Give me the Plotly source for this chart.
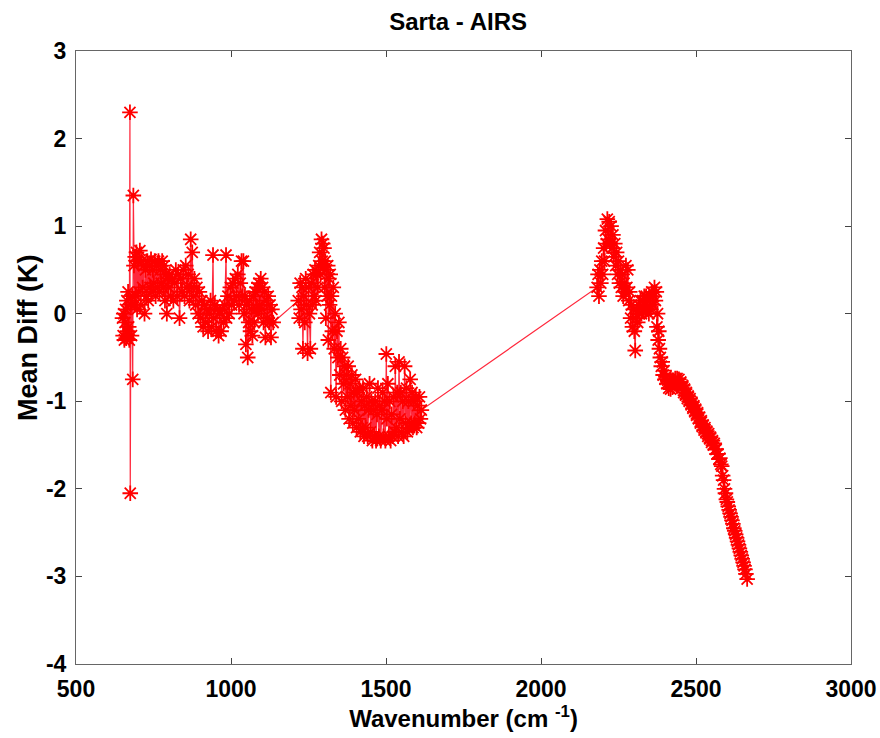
import plotly.graph_objects as go

# Band 1 (cm^-1, K)
wn1 = [650, 652, 654, 656, 658, 660, 662, 664, 666, 668, 670, 672, 674, 675, 677, 679, 681, 683, 685, 687,
       689, 691, 693, 695, 697, 700, 703, 706, 709, 712, 715, 718, 721, 724, 727, 730, 733, 736, 739, 742,
       745, 748, 751, 754, 757, 760, 763, 766, 769, 772, 775, 778, 781, 784, 787, 790, 793, 796, 799, 802,
       806, 810, 814, 818, 822, 826, 830, 834, 838, 842, 846, 850, 854, 858, 862, 866, 870, 872, 875, 878,
       882, 886, 890, 894, 898, 902, 906, 910, 914, 918, 922, 926, 930, 934, 938, 942, 944, 948, 952, 956,
       960, 964, 968, 972, 976, 980, 984, 986, 990, 994, 998, 1002, 1006, 1010, 1014, 1018, 1022, 1026, 1030, 1034,
       1036, 1040, 1042, 1045, 1048, 1051, 1054, 1057, 1060, 1063, 1066, 1069, 1072, 1075, 1078, 1081, 1084, 1087, 1090, 1093,
       1096, 1099, 1102, 1105, 1108, 1111, 1114, 1117, 1120, 1123, 1126, 1129, 1132, 1136]
val1 = [-0.05, -0.25, 0.0, -0.3, -0.1, 0.05, -0.28, 0.15, -0.2, 0.25, -0.15, -0.3, 2.3, -2.05, 0.1, -0.25, 0.2, -0.75, 1.35, 0.55,
        0.1, 0.65, 0.2, 0.7, 0.05, 0.6, 0.25, 0.72, 0.1, 0.6, 0.3, 0.55, 0.0, 0.5, 0.2, 0.6, 0.15, 0.55, 0.3, 0.62,
        0.25, 0.5, 0.35, 0.6, 0.2, 0.55, 0.3, 0.6, 0.25, 0.5, 0.35, 0.6, 0.3, 0.55, 0.15, 0.45, 0.0, 0.4, 0.3, 0.45,
        0.2, 0.4, 0.15, 0.35, 0.5, 0.2, 0.45, -0.05, 0.4, 0.25, 0.5, 0.2, 0.55, 0.3, 0.45, 0.15, 0.85, 0.3, 0.7, 0.2,
        0.4, 0.1, 0.3, 0.0, 0.25, -0.05, 0.15, -0.15, 0.1, -0.1, 0.05, -0.2, 0.0, 0.15, -0.15, 0.67, -0.05, 0.1, -0.2, 0.05,
        -0.25, 0.0, -0.2, 0.05, -0.1, 0.1, 0.67, -0.05, 0.2, 0.0, 0.3, 0.1, 0.35, 0.15, 0.4, 0.2, 0.45, 0.1, 0.35, 0.6,
        0.2, 0.6, 0.0, 0.2, -0.35, 0.1, -0.5, -0.1, 0.15, -0.2, 0.05, -0.25, 0.2, -0.1, 0.25, 0.05, 0.3, 0.0, 0.35, 0.1,
        0.4, 0.05, 0.3, -0.1, 0.25, -0.27, 0.15, -0.05, 0.2, -0.1, 0.1, -0.27, 0.05, -0.1]

# Band 2
wn2 = [1217, 1220, 1223, 1226, 1229, 1232, 1235, 1238, 1241, 1244, 1247, 1250, 1253, 1256, 1259, 1262, 1265, 1268, 1271, 1274,
       1277, 1280, 1283, 1286, 1289, 1292, 1294, 1296, 1298, 1300, 1302, 1304, 1306, 1308, 1310, 1312, 1314, 1316, 1318, 1320,
       1322, 1324, 1327, 1330, 1333, 1336, 1339, 1342, 1345, 1348, 1351, 1354, 1357, 1360, 1363, 1366, 1369, 1372, 1375, 1378,
       1381, 1384, 1387, 1390, 1393, 1396, 1399, 1402, 1405, 1408, 1411, 1414, 1417, 1420, 1423, 1426, 1429, 1432, 1435, 1438,
       1441, 1444, 1447, 1450, 1453, 1456, 1459, 1462, 1465, 1468, 1471, 1474, 1477, 1480, 1483, 1486, 1489, 1492, 1495, 1498,
       1501, 1503, 1506, 1509, 1512, 1515, 1518, 1521, 1524, 1527, 1530, 1533, 1536, 1539, 1542, 1545, 1548, 1551, 1554, 1557,
       1560, 1563, 1566, 1569, 1572, 1575, 1578, 1581, 1584, 1587, 1590, 1593, 1596, 1599, 1602, 1605, 1608, 1611, 1614]
val2 = [0.15, -0.05, 0.35, 0.05, 0.3, -0.4, 0.2, -0.1, 0.4, 0.1, -0.45, 0.3, 0.0, -0.4, 0.35, 0.1, 0.45, 0.2, 0.5, 0.15,
        0.45, 0.3, 0.55, 0.7, 0.45, 0.85, 0.6, 0.8, 0.55, 0.75, 0.3, 0.6, -0.05, 0.5, 0.2, 0.55, -0.3, 0.4, 0.1, 0.45,
        -0.9, 0.2, -0.2, 0.3, -0.4, 0.0, -0.95, -0.2, -0.5, -0.1, -0.7, -0.4, -1.0, -0.5, -0.8, -0.6, -1.1, -0.7, -0.95, -0.6,
        -1.2, -0.8, -1.05, -0.7, -1.25, -0.9, -1.1, -0.75, -1.3, -0.9, -1.2, -0.85, -1.35, -1.0, -1.3, -0.85, -1.4, -1.05, -1.3, -0.95,
        -1.4, -1.1, -0.8, -1.35, -1.0, -1.45, -1.1, -1.4, -1.0, -1.45, -1.15, -0.85, -1.4, -1.05, -1.45, -1.1, -0.9, -1.4, -1.0, -1.45,
        -0.46, -1.2, -0.8, -1.4, -1.0, -1.45, -1.15, -1.4, -0.95, -1.35, -0.6, -1.3, -0.9, -1.4, -0.55, -1.2, -0.9, -1.35, -1.0, -1.4,
        -0.6, -1.25, -0.85, -1.35, -1.0, -1.3, -0.75, -1.25, -0.9, -1.3, -1.0, -1.25, -0.95, -1.3, -1.05, -1.25, -0.95, -1.2, -1.1]

# Band 3
wn3 = [2181, 2184, 2187, 2190, 2193, 2196, 2199, 2202, 2205, 2208, 2211, 2214, 2217, 2220, 2223, 2226, 2229, 2232, 2235, 2238,
       2241, 2244, 2247, 2250, 2253, 2256, 2259, 2262, 2265, 2268, 2271, 2274, 2277, 2280, 2283, 2286, 2289, 2292, 2295, 2298,
       2301, 2304, 2306, 2309, 2312, 2315, 2318, 2321, 2324, 2327, 2330, 2333, 2336, 2339, 2342, 2345, 2348, 2351, 2354, 2357,
       2360, 2363, 2366, 2369, 2372, 2374, 2376, 2378, 2380, 2382, 2385, 2388, 2391, 2394, 2397, 2400, 2403, 2406, 2409, 2412,
       2415, 2418, 2421, 2424, 2427, 2430, 2433, 2436, 2439, 2442, 2445, 2448, 2451, 2454, 2457, 2460, 2463, 2466, 2469, 2472,
       2475, 2478, 2481, 2484, 2487, 2490, 2493, 2496, 2499, 2502, 2505, 2508, 2511, 2514, 2517, 2520, 2523, 2526, 2529, 2532,
       2535, 2538, 2541, 2544, 2547, 2550, 2553, 2556, 2559, 2562, 2565, 2568, 2571, 2574, 2577, 2580, 2583, 2586, 2589, 2592,
       2595, 2598, 2601, 2604, 2607, 2610, 2613, 2616, 2619, 2622, 2625, 2628, 2631, 2634, 2637, 2640, 2643, 2646, 2649, 2652,
       2655, 2658, 2661, 2665]
val3 = [0.3, 0.45, 0.2, 0.5, 0.35, 0.6, 0.45, 0.75, 0.6, 0.95, 0.8, 1.08, 0.85, 1.05, 0.8, 1.0, 0.75, 0.9, 0.65, 0.8,
        0.55, 0.7, 0.45, 0.6, 0.35, 0.5, 0.3, 0.45, 0.2, 0.35, 0.25, 0.55, 0.3, 0.5, 0.15, 0.25, -0.05, 0.1, -0.15, 0.05,
        -0.2, -0.42, -0.05, 0.05, -0.1, 0.1, 0.0, 0.15, 0.0, 0.15, 0.05, 0.2, 0.05, 0.2, 0.05, 0.15, 0.0, 0.2, 0.05, 0.25,
        0.1, 0.2, 0.3, 0.15, 0.25, -0.15, 0.0, -0.3, -0.2, -0.4, -0.5, -0.6, -0.55, -0.7, -0.65, -0.75, -0.72, -0.8, -0.76, -0.85,
        -0.8, -0.86, -0.8, -0.84, -0.76, -0.8, -0.74, -0.8, -0.74, -0.8, -0.75, -0.8, -0.78, -0.85, -0.82, -0.9, -0.86, -0.93, -0.9, -0.97,
        -0.94, -1.0, -0.97, -1.04, -1.01, -1.08, -1.05, -1.12, -1.09, -1.16, -1.13, -1.2, -1.18, -1.25, -1.22, -1.29, -1.27, -1.33, -1.3, -1.36,
        -1.34, -1.4, -1.37, -1.43, -1.41, -1.47, -1.45, -1.5, -1.48, -1.55, -1.55, -1.6, -1.6, -1.66, -1.65, -1.72, -1.74, -1.85, -1.9, -2.0,
        -2.05, -2.12, -2.15, -2.2, -2.24, -2.28, -2.32, -2.36, -2.4, -2.45, -2.48, -2.52, -2.56, -2.6, -2.64, -2.68, -2.72, -2.76, -2.8, -2.84,
        -2.88, -2.92, -2.97, -3.03]

x_ticks = [500, 1000, 1500, 2000, 2500, 3000]
y_ticks = [-4, -3, -2, -1, 0, 1, 2, 3]

wn = wn1 + wn2 + wn3
val = val1 + val2 + val3

FONT = "Liberation Sans, Arial, Helvetica, sans-serif"
FS = 23

fig = go.Figure()
fig.add_trace(go.Scatter(
    x=wn, y=val, mode="lines+markers",
    line=dict(color="rgb(255,40,60)", width=1.2),
    marker=dict(symbol="asterisk-open", size=13, color="red",
                line=dict(color="red", width=1.8)),
    showlegend=False,
))

axis_common = dict(
    showline=True, linecolor="#666", linewidth=1, mirror="ticks",
    ticks="inside", ticklen=6, tickcolor="#444", showgrid=False, zeroline=False,
    automargin=False,
    tickfont=dict(family=FONT, size=FS, color="black", weight="bold"),
)

fig.update_layout(
    width=880, height=738,
    margin=dict(l=76, r=29, t=51, b=74),
    paper_bgcolor="white", plot_bgcolor="white",
    title=dict(text="Sarta - AIRS", x=0.493, xanchor="center", xref="paper",
               y=1 - 22 / 738, yanchor="middle",
               font=dict(family=FONT, size=24, color="black", weight="bold")),
    xaxis=dict(range=[500, 3000], tickvals=x_ticks, ticktext=[str(v) for v in x_ticks],
               ticklabelstandoff=4,
               title=dict(text="Wavenumber (cm <sup>-1</sup>)", standoff=4,
                          font=dict(family=FONT, size=24, color="black", weight="bold")),
               **axis_common),
    yaxis=dict(range=[-4, 3], tickvals=y_ticks, ticktext=[str(v) for v in y_ticks],
               ticklabelstandoff=4, **axis_common),
    annotations=[dict(text="Mean Diff (K)", textangle=-90, xref="paper", yref="paper",
                      x=(28 - 76) / 775, y=(664 - 338) / 613, xanchor="center", yanchor="middle",
                      showarrow=False,
                      font=dict(family=FONT, size=27, color="black", weight="bold"))],
)

fig.write_html("out.html")
